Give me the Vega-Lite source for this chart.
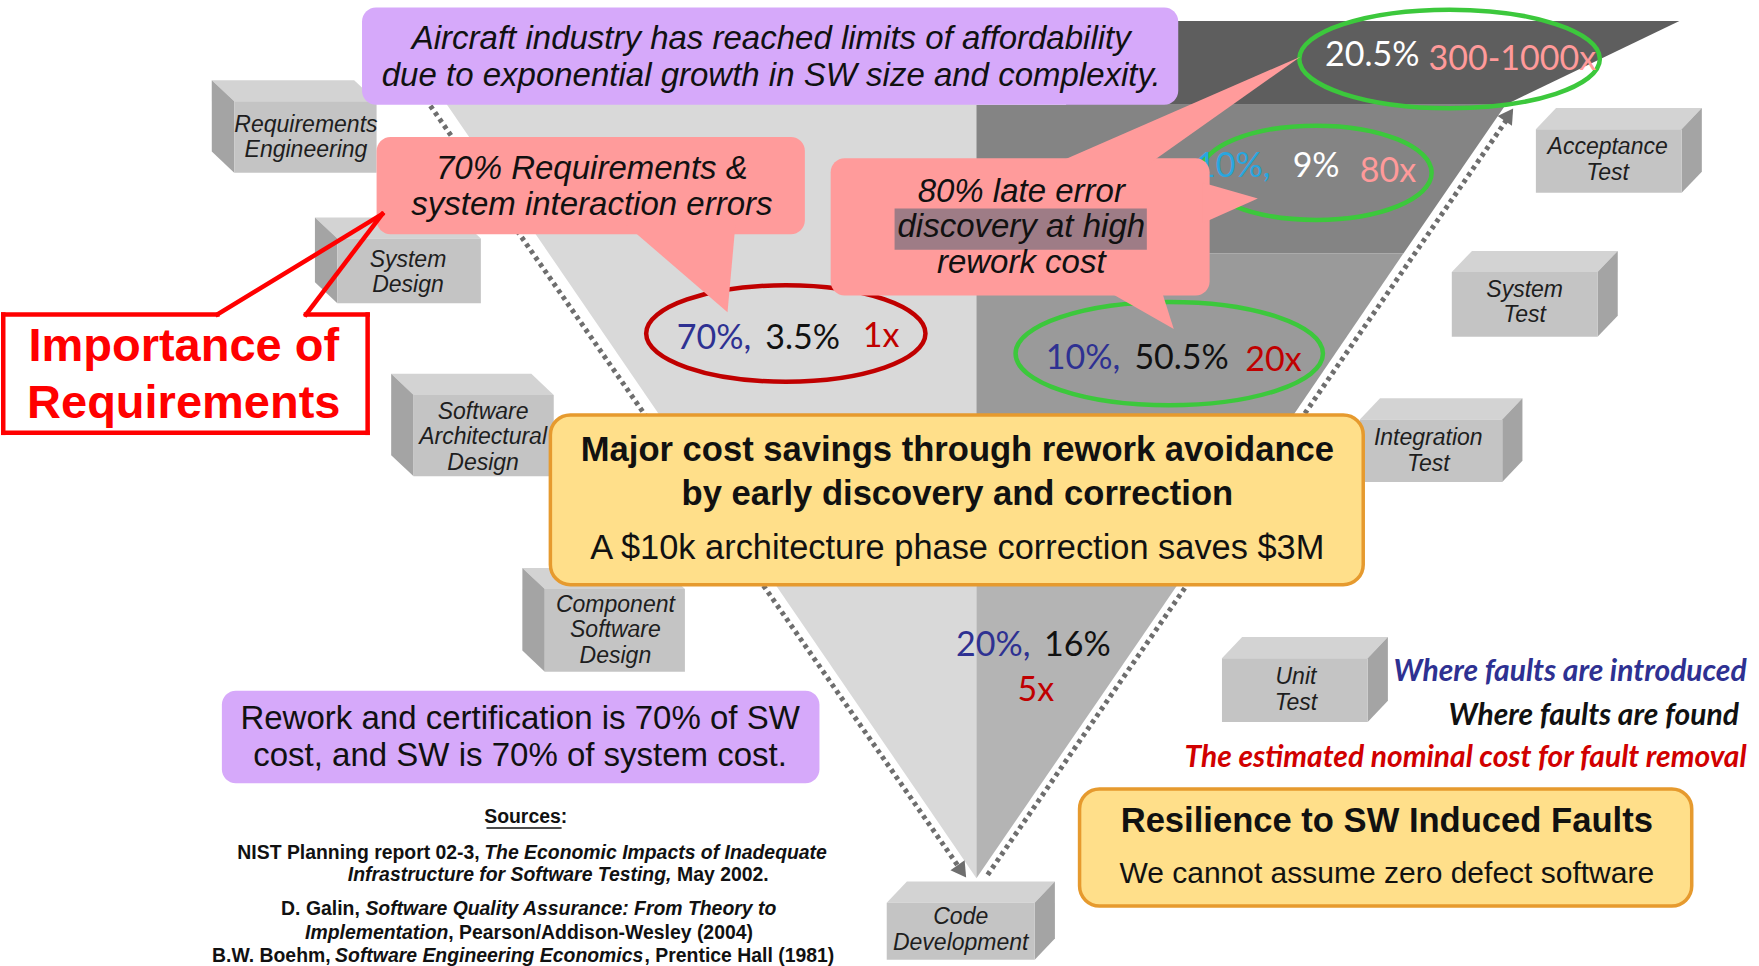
{
"$schema": "https://vega.github.io/schema/vega-lite/v6.json",
"width": 1759, "height": 966, "padding": 0,
"autosize": {"type": "fit", "contains": "padding"},
"background": "#ffffff",
"config": {"view": {"stroke": null}},
"encoding": {
  "x": {"field": "x", "type": "quantitative", "stack": null, "scale": {"domain": [0, 1568], "nice": false, "zero": false}, "axis": null},
  "y": {"field": "y", "type": "quantitative", "stack": null, "scale": {"domain": [0, 861], "nice": false, "zero": false, "reverse": true}, "axis": null}
},
"layer": [
{
  "data": {"values": [
    {"id": "L", "part": "light", "y": 60, "x": 376, "x2": 870},
    {"id": "L", "part": "light", "y": 785, "x": 870, "x2": 870},
    {"id": "B1", "part": "band1", "y": 17, "x": 950, "x2": 1497},
    {"id": "B1", "part": "band1", "y": 92, "x": 950, "x2": 1342},
    {"id": "B2", "part": "band2", "y": 92, "x": 870, "x2": 1342},
    {"id": "B2", "part": "band2", "y": 225, "x": 870, "x2": 1251},
    {"id": "B3", "part": "band3", "y": 225, "x": 870, "x2": 1251},
    {"id": "B3", "part": "band3", "y": 445, "x": 870, "x2": 1102},
    {"id": "B4", "part": "band4", "y": 445, "x": 870, "x2": 1102},
    {"id": "B4", "part": "band4", "y": 785, "x": 870, "x2": 870}
  ]},
  "mark": {"type": "area", "orient": "horizontal"},
  "encoding": {
    "x2": {"field": "x2"},
    "detail": {"field": "id"},
    "color": {"field": "part", "type": "nominal", "legend": null,
      "scale": {"domain": ["light", "band1", "band2", "band3", "band4"], "range": ["#d9d9d9", "#5e5e5e", "#848484", "#9a9a9a", "#b4b4b4"]}}
  }
},
{
  "data": {"values": [{"x": 880, "y": 782, "x2": 1344, "y2": 104}]},
  "mark": {"type": "rule", "color": "#ffffff", "strokeWidth": 9},
  "encoding": {"x2": {"field": "x2"}, "y2": {"field": "y2"}}
},
{
  "data": {"values": [{"x": 383, "y": 93, "x2": 855, "y2": 776}, {"x": 880, "y": 782, "x2": 1344, "y2": 104}]},
  "mark": {"type": "rule", "color": "#6e6e6e", "strokeWidth": 5, "strokeDash": [4, 4]},
  "encoding": {"x2": {"field": "x2"}, "y2": {"field": "y2"}}
},
{
  "data": {"values": [{"x": 857, "y": 779}]},
  "mark": {"type": "point", "shape": "triangle-down", "angle": 325, "size": 300, "filled": true, "opacity": 1, "color": "#6e6e6e"}
},
{
  "data": {"values": [{"x": 1345, "y": 101}]},
  "mark": {"type": "point", "shape": "triangle-up", "angle": 34, "size": 300, "filled": true, "opacity": 1, "color": "#6e6e6e"}
},
{
  "data": {"values": [
    {"id": "a", "y": 70, "x": 188, "x2": 315}, {"id": "a", "y": 89, "x": 208, "x2": 335},
    {"id": "b", "y": 193, "x": 280, "x2": 408}, {"id": "b", "y": 212, "x": 300, "x2": 428},
    {"id": "c", "y": 333, "x": 348, "x2": 473}, {"id": "c", "y": 352, "x": 368, "x2": 493},
    {"id": "d", "y": 507, "x": 465, "x2": 590}, {"id": "d", "y": 526, "x": 485, "x2": 610},
    {"id": "e", "y": 788, "x": 808, "x2": 940}, {"id": "e", "y": 807, "x": 790, "x2": 922},
    {"id": "f", "y": 95, "x": 1387, "x2": 1517}, {"id": "f", "y": 114, "x": 1369, "x2": 1499},
    {"id": "g", "y": 223, "x": 1312, "x2": 1442}, {"id": "g", "y": 242, "x": 1294, "x2": 1424},
    {"id": "h", "y": 355, "x": 1230, "x2": 1357}, {"id": "h", "y": 374, "x": 1212, "x2": 1339},
    {"id": "i", "y": 569, "x": 1107, "x2": 1237}, {"id": "i", "y": 588, "x": 1089, "x2": 1219}
  ]},
  "mark": {"type": "area", "orient": "horizontal", "color": "#d3d3d3"},
  "encoding": {"x2": {"field": "x2"}, "detail": {"field": "id"}}
},
{
  "data": {"values": [
    {"id": "a", "x": 188, "y": 70, "y2": 134}, {"id": "a", "x": 208, "y": 89, "y2": 153},
    {"id": "b", "x": 280, "y": 193, "y2": 251}, {"id": "b", "x": 300, "y": 212, "y2": 270},
    {"id": "c", "x": 348, "y": 333, "y2": 406}, {"id": "c", "x": 368, "y": 352, "y2": 425},
    {"id": "d", "x": 465, "y": 507, "y2": 581}, {"id": "d", "x": 485, "y": 526, "y2": 600},
    {"id": "e", "x": 922, "y": 807, "y2": 858}, {"id": "e", "x": 940, "y": 788, "y2": 839},
    {"id": "f", "x": 1499, "y": 114, "y2": 171}, {"id": "f", "x": 1517, "y": 95, "y2": 152},
    {"id": "g", "x": 1424, "y": 242, "y2": 300}, {"id": "g", "x": 1442, "y": 223, "y2": 281},
    {"id": "h", "x": 1339, "y": 374, "y2": 430}, {"id": "h", "x": 1357, "y": 355, "y2": 411},
    {"id": "i", "x": 1219, "y": 588, "y2": 645}, {"id": "i", "x": 1237, "y": 569, "y2": 626}
  ]},
  "mark": {"type": "area", "orient": "vertical", "color": "#a4a4a4"},
  "encoding": {"y2": {"field": "y2"}, "detail": {"field": "id"}}
},
{
  "data": {"values": [
    {"id": "a", "x": 208, "x2": 335, "y": 89, "y2": 153},
    {"id": "b", "x": 300, "x2": 428, "y": 212, "y2": 270},
    {"id": "c", "x": 368, "x2": 493, "y": 352, "y2": 425},
    {"id": "d", "x": 485, "x2": 610, "y": 526, "y2": 600},
    {"id": "e", "x": 790, "x2": 922, "y": 807, "y2": 858},
    {"id": "f", "x": 1369, "x2": 1499, "y": 114, "y2": 171},
    {"id": "g", "x": 1294, "x2": 1424, "y": 242, "y2": 300},
    {"id": "h", "x": 1212, "x2": 1339, "y": 374, "y2": 430},
    {"id": "i", "x": 1089, "x2": 1219, "y": 588, "y2": 645}
  ]},
  "mark": {"type": "rect", "color": "#c4c4c4"},
  "encoding": {"x2": {"field": "x2"}, "y2": {"field": "y2"}}
},
{
  "data": {"values": [
    {"x": 272, "y": 110, "text": "Requirements\nEngineering"},
    {"x": 363, "y": 231, "text": "System\nDesign"},
    {"x": 430, "y": 367, "text": "Software\nArchitectural\nDesign"},
    {"x": 548, "y": 540, "text": "Component\nSoftware\nDesign"},
    {"x": 856, "y": 820, "text": "Code\nDevelopment"},
    {"x": 1433, "y": 130, "text": "Acceptance\nTest"},
    {"x": 1359, "y": 258, "text": "System\nTest"},
    {"x": 1273, "y": 391, "text": "Integration\nTest"},
    {"x": 1155, "y": 605, "text": "Unit\nTest"}
  ]},
  "mark": {"type": "text", "font": "Liberation Sans", "fontStyle": "italic", "fontSize": 23, "lineHeight": 25.5, "lineBreak": "\n", "align": "center", "baseline": "middle", "color": "#1e1e1e"},
  "encoding": {"text": {"field": "text"}}
},
{
  "data": {"values": [{"x": 700, "y": 297}]},
  "mark": {"type": "point", "shape": "M1,0C1,0.1905 0.5523,0.345 0,0.345C-0.5523,0.345 -1,0.1905 -1,0C-1,-0.1905 -0.5523,-0.345 0,-0.345C0.5523,-0.345 1,-0.1905 1,0Z", "size": 78009, "filled": false, "opacity": 1, "stroke": "#c00000", "strokeWidth": 4.5}
},
{
  "data": {"values": [{"x": 1042, "y": 315}]},
  "mark": {"type": "point", "shape": "M1,0C1,0.1856 0.5523,0.336 0,0.336C-0.5523,0.336 -1,0.1856 -1,0C-1,-0.1856 -0.5523,-0.336 0,-0.336C0.5523,-0.336 1,-0.1856 1,0Z", "size": 94494, "filled": false, "opacity": 1, "stroke": "#3cc83c", "strokeWidth": 4.5}
},
{
  "data": {"values": [{"x": 1292, "y": 51}]},
  "mark": {"type": "point", "shape": "M1,0C1,0.1812 0.5523,0.328 0,0.328C-0.5523,0.328 -1,0.1812 -1,0C-1,-0.1812 -0.5523,-0.328 0,-0.328C0.5523,-0.328 1,-0.1812 1,0Z", "size": 90360, "filled": false, "opacity": 1, "stroke": "#3cc83c", "strokeWidth": 4.5}
},
{
  "data": {"values": [{"x": 1173, "y": 153}]},
  "mark": {"type": "point", "shape": "M1,0C1,0.2253 0.5523,0.408 0,0.408C-0.5523,0.408 -1,0.2253 -1,0C-1,-0.2253 -0.5523,-0.408 0,-0.408C0.5523,-0.408 1,-0.2253 1,0Z", "size": 53361, "filled": false, "opacity": 1, "stroke": "#3cc83c", "strokeWidth": 4.5}
},
{
  "data": {"values": [{"x": 636, "y": 302, "text": "70%,"}, {"x": 965, "y": 320, "text": "10%,"}, {"x": 885, "y": 577, "text": "20%,"}]},
  "mark": {"type": "text", "font": "Lato", "fontSize": 34, "align": "center", "baseline": "middle", "color": "#2e3192"},
  "encoding": {"text": {"field": "text"}}
},
{
  "data": {"values": [{"x": 715, "y": 302, "text": "3.5%"}, {"x": 1053, "y": 320, "text": "50.5%"}, {"x": 960, "y": 577, "text": "16%"}]},
  "mark": {"type": "text", "font": "Lato", "fontSize": 34, "align": "center", "baseline": "middle", "color": "#111111"},
  "encoding": {"text": {"field": "text"}}
},
{
  "data": {"values": [{"x": 785, "y": 300, "text": "1x"}, {"x": 1135, "y": 322, "text": "20x"}, {"x": 923, "y": 617, "text": "5x"}]},
  "mark": {"type": "text", "font": "Lato", "fontSize": 34, "align": "center", "baseline": "middle", "color": "#c00000"},
  "encoding": {"text": {"field": "text"}}
},
{
  "data": {"values": [{"x": 1223, "y": 48, "text": "20.5%"}, {"x": 1173, "y": 148, "text": "9%"}]},
  "mark": {"type": "text", "font": "Lato", "fontSize": 34, "align": "center", "baseline": "middle", "color": "#ffffff"},
  "encoding": {"text": {"field": "text"}}
},
{
  "data": {"values": [{"x": 1348, "y": 52, "text": "300-1000x"}, {"x": 1237, "y": 152, "text": "80x"}]},
  "mark": {"type": "text", "font": "Lato", "fontSize": 34, "align": "center", "baseline": "middle", "color": "#ff9a9a"},
  "encoding": {"text": {"field": "text"}}
},
{
  "data": {"values": [{"x": 1099, "y": 148, "text": "10%,"}]},
  "mark": {"type": "text", "font": "Lato", "fontSize": 34, "align": "center", "baseline": "middle", "color": "#29a6df"},
  "encoding": {"text": {"field": "text"}}
},
{
  "data": {"values": [{"x": 335, "x2": 717, "y": 121, "y2": 208}, {"x": 740, "x2": 1078, "y": 140, "y2": 263}]},
  "mark": {"type": "rect", "color": "#ff9b9b", "cornerRadius": 14},
  "encoding": {"x2": {"field": "x2"}, "y2": {"field": "y2"}}
},
{
  "data": {"values": [
    {"id": "t1", "y": 200, "x": 558, "x2": 655}, {"id": "t1", "y": 278, "x": 648, "x2": 648},
    {"id": "t2", "y": 49, "x": 1159, "x2": 1159}, {"id": "t2", "y": 145, "x": 940, "x2": 1024},
    {"id": "t3", "y": 258, "x": 985, "x2": 1035}, {"id": "t3", "y": 293, "x": 1046, "x2": 1046}
  ]},
  "mark": {"type": "area", "orient": "horizontal", "color": "#ff9b9b"},
  "encoding": {"x2": {"field": "x2"}, "detail": {"field": "id"}}
},
{
  "data": {"values": [{"id": "t4", "x": 1072, "y": 162, "y2": 198}, {"id": "t4", "x": 1121, "y": 176, "y2": 176}]},
  "mark": {"type": "area", "orient": "vertical", "color": "#ff9b9b"},
  "encoding": {"y2": {"field": "y2"}, "detail": {"field": "id"}}
},
{
  "data": {"values": [{"x": 797, "x2": 1022, "y": 185, "y2": 222}]},
  "mark": {"type": "rect", "color": "#9e7c86"},
  "encoding": {"x2": {"field": "x2"}, "y2": {"field": "y2"}}
},
{
  "data": {"values": [
    {"x": 527, "y": 150, "text": "70% Requirements &\nsystem interaction errors"},
    {"x": 910, "y": 170, "text": "80% late error\ndiscovery at high\nrework  cost"}
  ]},
  "mark": {"type": "text", "font": "Liberation Sans", "fontStyle": "italic", "fontSize": 33, "lineHeight": 35.5, "lineBreak": "\n", "align": "center", "baseline": "middle", "color": "#111111"},
  "encoding": {"text": {"field": "text"}}
},
{
  "data": {"values": [{"x": 322, "x2": 1050, "y": 5, "y2": 92}, {"x": 197, "x2": 730, "y": 617, "y2": 700}]},
  "mark": {"type": "rect", "color": "#d6a9fa", "cornerRadius": 14},
  "encoding": {"x2": {"field": "x2"}, "y2": {"field": "y2"}}
},
{
  "data": {"values": [{"x": 687, "y": 33, "text": "Aircraft industry has reached limits of affordability\ndue to exponential growth in SW size and complexity."}]},
  "mark": {"type": "text", "font": "Liberation Sans", "fontStyle": "italic", "fontSize": 33, "lineHeight": 37, "lineBreak": "\n", "align": "center", "baseline": "middle", "color": "#111111"},
  "encoding": {"text": {"field": "text"}}
},
{
  "data": {"values": [{"x": 463, "y": 642, "text": "Rework and certification is 70% of SW\ncost, and SW is 70% of system cost."}]},
  "mark": {"type": "text", "font": "Liberation Sans", "fontSize": 33, "lineHeight": 37, "lineBreak": "\n", "align": "center", "baseline": "middle", "color": "#111111"},
  "encoding": {"text": {"field": "text"}}
},
{
  "data": {"values": [{"x": 490, "x2": 1215, "y": 370, "y2": 522}, {"x": 962, "x2": 1508, "y": 705, "y2": 810}]},
  "mark": {"type": "rect", "color": "#ffdf8a", "stroke": "#e69a2e", "strokeWidth": 3.5, "cornerRadius": 20},
  "encoding": {"x2": {"field": "x2"}, "y2": {"field": "y2"}}
},
{
  "data": {"values": [
    {"x": 853, "y": 402, "text": "Major cost savings through rework avoidance\nby early discovery and correction"},
    {"x": 1236, "y": 735, "text": "Resilience to SW Induced Faults"}
  ]},
  "mark": {"type": "text", "font": "Liberation Sans", "fontWeight": "bold", "fontSize": 34.6, "lineHeight": 44, "lineBreak": "\n", "align": "center", "baseline": "middle", "color": "#111111"},
  "encoding": {"text": {"field": "text"}}
},
{
  "data": {"values": [{"x": 853, "y": 490, "text": "A $10k architecture phase correction saves $3M"}]},
  "mark": {"type": "text", "font": "Liberation Sans", "fontSize": 34.4, "align": "center", "baseline": "middle", "color": "#111111"},
  "encoding": {"text": {"field": "text"}}
},
{
  "data": {"values": [{"x": 1236, "y": 781, "text": "We cannot assume zero defect software"}]},
  "mark": {"type": "text", "font": "Liberation Sans", "fontSize": 30, "align": "center", "baseline": "middle", "color": "#111111"},
  "encoding": {"text": {"field": "text"}}
},
{
  "data": {"values": [{"x": 2, "x2": 327, "y": 280, "y2": 386}]},
  "mark": {"type": "rect", "color": "#ffffff"},
  "encoding": {"x2": {"field": "x2"}, "y2": {"field": "y2"}}
},
{
  "data": {"values": [
    {"x": 2, "y": 280, "x2": 2, "y2": 386},
    {"x": 2, "y": 386, "x2": 327, "y2": 386},
    {"x": 327, "y": 386, "x2": 327, "y2": 280},
    {"x": 2, "y": 280, "x2": 193, "y2": 280},
    {"x": 272, "y": 280, "x2": 327, "y2": 280},
    {"x": 193, "y": 280, "x2": 340, "y2": 190},
    {"x": 340, "y": 190, "x2": 272, "y2": 280}
  ]},
  "mark": {"type": "rule", "color": "#ff0000", "strokeWidth": 4.5, "strokeCap": "square"},
  "encoding": {"x2": {"field": "x2"}, "y2": {"field": "y2"}}
},
{
  "data": {"values": [{"x": 163, "y": 309, "text": "Importance of\nRequirements"}]},
  "mark": {"type": "text", "font": "Liberation Sans", "fontWeight": "bold", "fontSize": 47, "lineHeight": 57, "lineBreak": "\n", "align": "center", "baseline": "middle", "color": "#ff0000"},
  "encoding": {"text": {"field": "text"}}
},
{
  "data": {"values": [{"x": 468, "y": 730, "text": "Sources:"}]},
  "mark": {"type": "text", "font": "Liberation Sans", "fontWeight": "bold", "fontSize": 19.4, "align": "center", "baseline": "middle", "color": "#111111"},
  "encoding": {"text": {"field": "text"}}
},
{
  "data": {"values": [{"x": 433, "y": 740, "x2": 500, "y2": 740}]},
  "mark": {"type": "rule", "color": "#111111", "strokeWidth": 1.5},
  "encoding": {"x2": {"field": "x2"}, "y2": {"field": "y2"}}
},
{
  "data": {"values": [
    {"x": 427, "y": 762, "text": "NIST Planning report 02-3,"},
    {"x": 320, "y": 813, "text": "D. Galin,"},
    {"x": 294, "y": 855, "text": "B.W. Boehm,"}
  ]},
  "mark": {"type": "text", "font": "Liberation Sans", "fontWeight": "bold", "fontSize": 19.4, "align": "right", "baseline": "middle", "color": "#111111"},
  "encoding": {"text": {"field": "text"}}
},
{
  "data": {"values": [
    {"x": 431, "y": 762, "text": "The Economic Impacts of Inadequate"},
    {"x": 325, "y": 813, "text": "Software Quality Assurance: From Theory to"},
    {"x": 298, "y": 855, "text": "Software Engineering Economics"}
  ]},
  "mark": {"type": "text", "font": "Liberation Sans", "fontWeight": "bold", "fontStyle": "italic", "fontSize": 19.4, "align": "left", "baseline": "middle", "color": "#111111"},
  "encoding": {"text": {"field": "text"}}
},
{
  "data": {"values": [
    {"x": 598, "y": 782, "text": "Infrastructure for Software Testing,"},
    {"x": 399, "y": 834, "text": "Implementation"}
  ]},
  "mark": {"type": "text", "font": "Liberation Sans", "fontWeight": "bold", "fontStyle": "italic", "fontSize": 19.4, "align": "right", "baseline": "middle", "color": "#111111"},
  "encoding": {"text": {"field": "text"}}
},
{
  "data": {"values": [
    {"x": 603, "y": 782, "text": "May 2002."},
    {"x": 399, "y": 834, "text": ", Pearson/Addison-Wesley (2004)"},
    {"x": 574, "y": 855, "text": ", Prentice Hall (1981)"}
  ]},
  "mark": {"type": "text", "font": "Liberation Sans", "fontWeight": "bold", "fontSize": 19.4, "align": "left", "baseline": "middle", "color": "#111111"},
  "encoding": {"text": {"field": "text"}}
},
{
  "data": {"values": [{"x": 1557, "y": 600, "text": "Where faults are introduced"}]},
  "mark": {"type": "text", "font": "Lato", "fontWeight": "bold", "fontStyle": "italic", "fontSize": 30, "align": "right", "baseline": "middle", "color": "#2e3192"},
  "encoding": {"text": {"field": "text"}}
},
{
  "data": {"values": [{"x": 1550, "y": 640, "text": "Where faults are found"}]},
  "mark": {"type": "text", "font": "Lato", "fontWeight": "bold", "fontStyle": "italic", "fontSize": 30, "align": "right", "baseline": "middle", "color": "#111111"},
  "encoding": {"text": {"field": "text"}}
},
{
  "data": {"values": [{"x": 1557, "y": 677, "text": "The estimated nominal cost for fault removal"}]},
  "mark": {"type": "text", "font": "Lato", "fontWeight": "bold", "fontStyle": "italic", "fontSize": 30, "align": "right", "baseline": "middle", "color": "#d10000"},
  "encoding": {"text": {"field": "text"}}
}
]
}
